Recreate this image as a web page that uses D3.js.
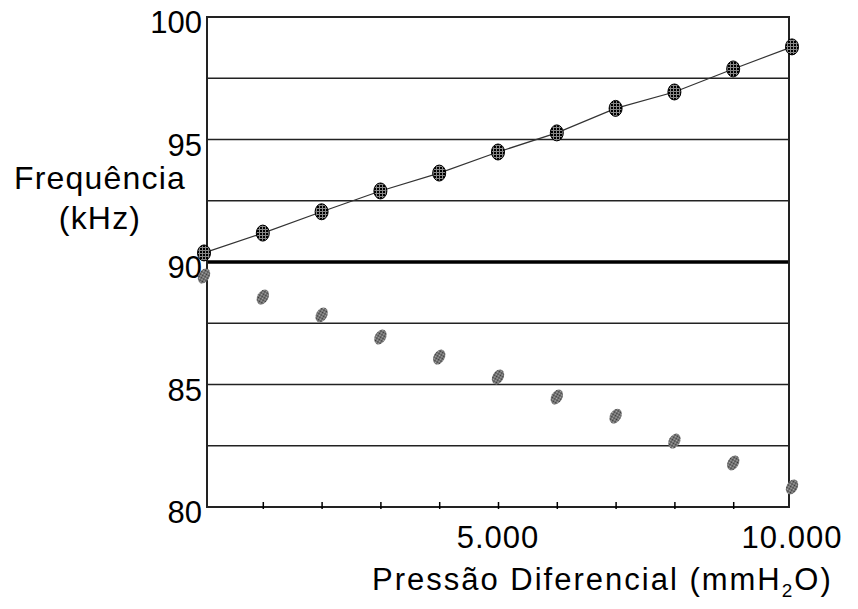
<!DOCTYPE html>
<html>
<head>
<meta charset="utf-8">
<script src="https://cdn.jsdelivr.net/npm/d3@7"></script>
<style>
  body { margin: 0; background: #fff; }
  svg text { font-family: "Liberation Sans", Arial, sans-serif; fill: #000; }
</style>
</head>
<body>
<script>
// pressure steps (mmH2O) and the two frequency curves (kHz)
var pressure = [0, 1000, 2000, 3000, 4000, 5000, 6000, 7000, 8000, 9000, 10000]
var freqUp = [90.37, 91.18, 92.05, 92.9, 93.63, 94.49, 95.27, 96.27, 96.94, 97.88, 98.78]
var freqDown = [89.43, 88.57, 87.84, 86.94, 86.12, 85.31, 84.49, 83.71, 82.69, 81.8, 80.82]
var yTicks = [80, 85, 90, 95, 100]
var gridVals = [82.5, 85, 87.5, 92.5, 95, 97.5]
var xLabelVals = [5000, 10000]
var xTickVals = d3.range(1000, 10000, 1000)

var width = 858, height = 609

var svg = d3.select('body').append('svg')
    .attr('width', width)
    .attr('height', height)

var x = d3.scaleLinear().domain([0, 10000]).range([204, 792])
var y = d3.scaleLinear().domain([80, 100]).range([507, 17])
var left = 207, right = 789

var defs = svg.append('defs')
// cross hatch fill for the upper markers
var hatch = defs.append('pattern').attr('id', 'hatch')
    .attr('patternUnits', 'userSpaceOnUse').attr('width', 3).attr('height', 3)
hatch.append('rect').attr('width', 3).attr('height', 3).attr('fill', '#000')
hatch.append('rect').attr('x', 1).attr('width', 1).attr('height', 3).attr('fill', '#888')
hatch.append('rect').attr('y', 1).attr('width', 3).attr('height', 1).attr('fill', '#888')
// dotted grey fill for the lower markers
var dots = defs.append('pattern').attr('id', 'dots')
    .attr('patternUnits', 'userSpaceOnUse').attr('width', 2).attr('height', 2)
dots.append('rect').attr('width', 2).attr('height', 2).attr('fill', '#b0b0b0')
dots.append('rect').attr('width', 1).attr('height', 1).attr('fill', '#333')
dots.append('rect').attr('x', 1).attr('y', 1).attr('width', 1).attr('height', 1).attr('fill', '#333')

// horizontal grid
svg.append('g').selectAll('line')
    .data(gridVals)
    .enter()
    .append('line')
    .attr('x1', left).attr('x2', right)
    .attr('y1', d => y(d)).attr('y2', d => y(d))
    .attr('stroke', '#222')
    .attr('stroke-width', 1.5)

// reference line at 90 kHz
svg.append('line')
    .attr('x1', left).attr('x2', right)
    .attr('y1', y(90)).attr('y2', y(90))
    .attr('stroke', '#000')
    .attr('stroke-width', 3.5)

// frame
svg.append('rect')
    .attr('x', left).attr('y', y(100))
    .attr('width', right - left).attr('height', y(80) - y(100))
    .attr('fill', 'none')
    .attr('stroke', '#222')
    .attr('stroke-width', 2)

// x ticks on the bottom axis
svg.append('g')
    .attr('transform', 'translate(0,' + y(80) + ')')
    .call(d3.axisBottom(x).tickValues(xTickVals).tickSize(-5).tickFormat(''))
    .call(g => g.select('.domain').remove())
    .call(g => g.selectAll('line').attr('stroke', '#000').attr('stroke-width', 1.5).attr('y2', -5).attr('y1', 2))

// y labels
svg.append('g').selectAll('text')
    .data(yTicks)
    .enter()
    .append('text')
    .attr('x', 202)
    .attr('y', d => y(d) + 16)
    .attr('text-anchor', 'end')
    .attr('font-size', 31)
    .text(d => d)

var fmt = d3.formatLocale({ decimal: ',', thousands: '.', grouping: [3], currency: ['', ''] }).format(',')
svg.append('g').selectAll('text')
    .data(xLabelVals)
    .enter()
    .append('text')
    .attr('x', d => x(d))
    .attr('y', 548)
    .attr('text-anchor', 'middle')
    .attr('font-size', 31)
    .attr('letter-spacing', 1)
    .text(d => fmt(d))

// axis titles
svg.append('text')
    .attr('x', 100).attr('y', 189)
    .attr('text-anchor', 'middle')
    .attr('font-size', 32)
    .attr('letter-spacing', 1.2)
    .text('Frequência')
svg.append('text')
    .attr('x', 100).attr('y', 229)
    .attr('text-anchor', 'middle')
    .attr('font-size', 32)
    .attr('letter-spacing', 1.2)
    .text('(kHz)')

var xt = svg.append('text')
    .attr('x', 372).attr('y', 590)
    .attr('font-size', 31)
    .attr('letter-spacing', 2)
xt.append('tspan').text('Pressão Diferencial (mmH')
xt.append('tspan').attr('font-size', 19).attr('dy', 7).text('2')
xt.append('tspan').attr('dy', -7).text('O)')

// line through the upper points
var line = d3.line()
    .x((d, i) => x(pressure[i]))
    .y(d => y(d))
svg.append('path')
    .datum(freqUp)
    .attr('d', line)
    .attr('fill', 'none')
    .attr('stroke', '#333')
    .attr('stroke-width', 1.2)

svg.append('g').selectAll('ellipse')
    .data(freqUp)
    .enter()
    .append('ellipse')
    .attr('cx', (d, i) => x(pressure[i]))
    .attr('cy', d => y(d))
    .attr('rx', 6.5).attr('ry', 8)
    .attr('fill', 'url(#hatch)')
    .attr('stroke', '#000')
    .attr('stroke-width', 1)

svg.append('g').selectAll('ellipse')
    .data(freqDown)
    .enter()
    .append('ellipse')
    .attr('transform', (d, i) => 'translate(' + x(pressure[i]) + ',' + y(d) + ') rotate(30)')
    .attr('rx', 5.5).attr('ry', 8)
    .attr('fill', 'url(#dots)')
</script>
</body>
</html>
